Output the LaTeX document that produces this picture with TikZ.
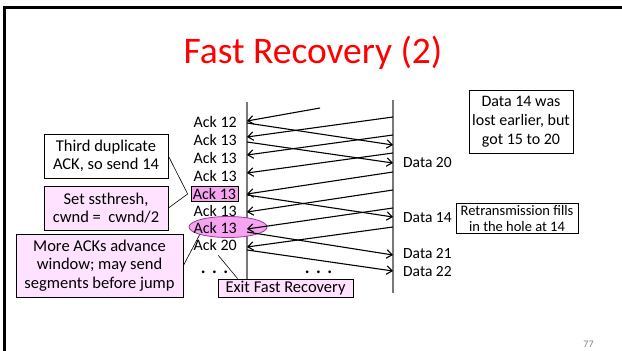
\documentclass[tikz,border=0pt]{standalone}
\usepackage{fontspec}
\setmainfont{Carlito}
\usetikzlibrary{arrows.meta,shapes.geometric,calc}

\definecolor{notepink}{RGB}{255,226,255}
\definecolor{markpink}{RGB}{246,164,240}
\definecolor{markedge}{RGB}{150,60,150}
\definecolor{titlered}{RGB}{255,0,0}
\definecolor{timeline}{RGB}{120,120,120}

\newcommand{\dotrow}{.\hspace{6.5pt}.\hspace{6.5pt}.}

\begin{document}
\begin{tikzpicture}[x=1pt,y=-1pt,
  msg/.style={line width=1.1pt,-{Straight Barb[length=5.5pt,width=8.5pt]}},
  acklbl/.style={anchor=east,inner sep=0pt,font=\fontsize{16}{18}\selectfont},
  datalbl/.style={anchor=west,inner sep=0pt,font=\fontsize{15.5}{18}\selectfont},
  leftnote/.style={draw,line width=0.8pt,align=center,inner sep=0pt,
    font=\fontsize{16.5}{18.5}\selectfont},
  rightnote/.style={draw,line width=0.8pt,align=center,inner sep=0pt,
    font=\fontsize{16}{19}\selectfont},
  dotsstyle/.style={inner sep=0pt,font=\fontsize{18}{20}\bfseries},
  leader/.style={line width=0.6pt}]

\useasboundingbox (0,0) rectangle (622,351);

% slide frame
\draw[line width=2.5pt] (4.5,351) -- (4.5,7.5) -- (622,7.5);

% title and page number
\node[anchor=base,text=titlered,inner sep=0pt,font=\fontsize{37.5}{40}\selectfont]
  (title) at (313,63) {Fast Recovery (2)};
\node[anchor=base,text=gray,inner sep=0pt,font=\fontsize{10}{12}\selectfont]
  (pagenum) at (588.5,347) {77};

% sender and receiver time lines
\coordinate (Ltop) at (247,102);
\coordinate (Lbot) at (247,281);
\coordinate (Rtop) at (393,100);
\coordinate (Rbot) at (393,293);
\draw[timeline,line width=1.4pt] (Ltop) -- (Lbot);
\draw[timeline,line width=1.4pt] (Rtop) -- (Rbot);

% highlighted ack
\node[ellipse,draw=markedge,fill=markpink,line width=0.8pt,
  minimum width=78pt,minimum height=21pt,inner sep=0pt] (ell) at (228,227) {};

% ack labels at the sender
\node[acklbl] (ack1) at (237,122) {Ack 12};
\node[acklbl] (ack2) at (237,140) {Ack 13};
\node[acklbl] (ack3) at (237,158) {Ack 13};
\node[acklbl] (ack4) at (237,176) {Ack 13};
\node[draw,fill=markpink,line width=0.7pt,inner sep=0pt,
  minimum width=47pt,minimum height=15pt,font=\fontsize{16}{18}\selectfont]
  (ack5) at (214.5,194) {Ack 13};
\node[acklbl] (ack6) at (237,211) {Ack 13};
\node[acklbl] (ack7) at (237,228) {Ack 13};
\node[acklbl] (ack8) at (237,245) {Ack 20};
\node[dotsstyle] (ldots) at (214.5,272) {\dotrow};
\node[dotsstyle] (mdots) at (318.5,272) {\dotrow};

% data labels at the receiver
\node[datalbl] (d20) at (403,163) {Data 20};
\node[datalbl] (d14) at (403,218) {Data 14};
\node[datalbl] (d21) at (403,254) {Data 21};
\node[datalbl] (d22) at (403,272) {Data 22};

% end points of the segments and acks
\coordinate (a0s) at (320,108);  \coordinate (a0e) at (247,121);
\coordinate (a1s) at (393,117);  \coordinate (a1e) at (247,137);
\coordinate (a2s) at (393,135);  \coordinate (a2e) at (247,155);
\coordinate (a3s) at (393,153);  \coordinate (a3e) at (247,173);
\coordinate (a4s) at (393,172);  \coordinate (a4e) at (247,194);
\coordinate (a5s) at (393,190);  \coordinate (a5e) at (247,212);
\coordinate (a6s) at (393,208);  \coordinate (a6e) at (247,229);
\coordinate (a7s) at (393,227);  \coordinate (a7e) at (247,247);
\coordinate (s1s) at (247,123);  \coordinate (s1e) at (393,145);
\coordinate (s2s) at (247,142);  \coordinate (s2e) at (393,163);
\coordinate (s3s) at (247,195);  \coordinate (s3e) at (393,217);
\coordinate (s4s) at (247,232);  \coordinate (s4e) at (393,255);
\coordinate (s5s) at (247,250);  \coordinate (s5e) at (393,271);

\foreach \i in {0,...,7} \draw[msg] (a\i s) -- (a\i e);
\foreach \i in {1,...,5} \draw[msg] (s\i s) -- (s\i e);

% notes on the left
\node[leftnote,fill=white,minimum width=124pt,minimum height=44pt]
  (n1) at (106,156) {Third duplicate\\ACK, so send 14};
\node[leftnote,fill=notepink,minimum width=124pt,minimum height=44pt]
  (n2) at (106,208) {Set ssthresh,\\cwnd = \ cwnd/2};
\node[leftnote,fill=notepink,minimum width=167pt,minimum height=63pt]
  (n3) at (99.5,265.5) {More ACKs advance\\window; may send\\segments before jump};
\node[leftnote,fill=notepink,minimum width=135pt,minimum height=18pt]
  (exit) at (285.5,288) {Exit Fast Recovery};

% notes on the right
\node[rightnote,fill=white,minimum width=104pt,minimum height=63pt]
  (n4) at (521,121.5) {Data 14 was\\lost earlier, but\\got 15 to 20};
\node[rightnote,fill=white,minimum width=122pt,minimum height=30pt,
  font=\fontsize{14.5}{15.5}\selectfont]
  (n5) at (517,218.5) {Retransmission fills\\in the hole at 14};

% leader lines
\draw[leader] (n1.east) -- ($(ack5.west)+(-3,0)$) -- (n2.east);
\draw[leader] (n3.east) -- (ell.195);
\draw[leader,shorten <=6pt] (ack8.south west) ++(21,0) -- ($(exit.north west)+(20,0)$);
\end{tikzpicture}
\end{document}
